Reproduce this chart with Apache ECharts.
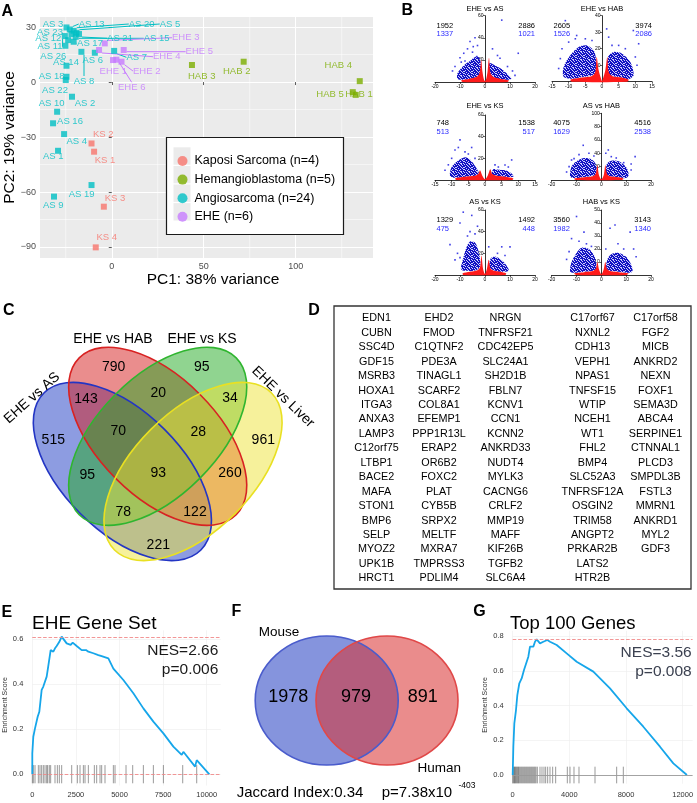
<!DOCTYPE html>
<html>
<head>
<meta charset="utf-8">
<script src="https://cdn.jsdelivr.net/npm/echarts@6.0.0/dist/echarts.min.js"></script>
<style>
html,body{margin:0;padding:0;background:#ffffff;}
#chart{width:697px;height:803px;}
</style>
</head>
<body>
<div id="chart"></div>
<script>
const FONT = '"Liberation Sans", Arial, Helvetica, sans-serif';

/* ================= Panel A : PCA ================= */
const pcaGroups = ['Kaposi Sarcoma (n=4)', 'Hemangioblastoma (n=5)', 'Angiosarcoma (n=24)', 'EHE (n=6)'];
const pcaColors = ['#F8766D', '#7CAE00', '#00BFC4', '#C77CFF'];

const ksNames = ['KS 2', 'KS 1', 'KS 3', 'KS 4'];
const ksPC1 = [-11.0, -9.6, -4.3, -8.7];
const ksPC2 = [-33.5, -38.0, -68.0, -90.2];

const habNames = ['HAB 3', 'HAB 2', 'HAB 4', 'HAB 5', 'HAB 1'];
const habPC1 = [43.6, 71.7, 134.8, 131.0, 132.6];
const habPC2 = [9.3, 11.1, 0.5, -5.5, -7.0];

const asNames = ['AS 3','AS 13','AS 20','AS 5','AS 23','AS 21','AS 15','AS 12','AS 17','AS 11','AS 26','AS 8','AS 6','AS 7','AS 14','AS 18','AS 22','AS 10','AS 2','AS 16','AS 4','AS 1','AS 19','AS 9'];
const asPC1 = [-24.6,-22.8,-20.7,-19.2,-21.9,-17.8,-19.6,-23.7,-20.7,-25.5,-25.2,-16.5,-9.2,1.3,-24.6,-24.6,-25.0,-29.7,-21.6,-31.9,-25.9,-29.2,-11.0,-31.4];
const asPC2 = [29.8,28.7,28.0,26.9,26.2,26.2,24.7,22.9,22.0,25.1,19.8,16.5,16.0,17.0,8.9,2.9,1.1,-16.2,-8.0,-22.5,-28.4,-37.5,-56.2,-62.5];

const eheNames = ['EHE 3','EHE 5','EHE 4','EHE 1','EHE 2','EHE 6'];
const ehePC1 = [-3.8, 6.5, -6.9, 0.7, 5.3, 2.5];
const ehePC2 = [21.1, 17.5, 17.5, 12.0, 11.1, 12.2];

const pcaMinorX = [-25, 25, 75, 125];
const pcaMinorY = [-75, -45, -15, 15];
const pcaTicksX = [0, 50, 100];
const pcaTicksY = [-90, -60, -30, 0, 30];

/* label placement (layout only, px) */
const ksLabelXY = [[103.3,134.3],[105,160],[115,198.3],[106.7,237.7]];
const habLabelXY = [[201.7,76],[236.7,71],[338.3,65.7],[330,94],[359,94]];
const asLabelXY = [[53,24],[91.7,24],[141.7,24],[170,24],[50,32.3],[120,38.3],[156.7,38.3],[48.3,38.3],[90,43.3],[50,46.7],[53.3,56.7],[84,81],[92.7,60],[136.7,57.3],[66,62.7],[51.7,76],[55,90],[51.7,103.3],[85,103.3],[70,121.7],[76.7,141.7],[53.3,156.7],[81.7,194],[53.3,205]];
const asGuide = [0,1,1,1,0,1,1,0,1,1,0,1,0,1,0,0,0,0,0,0,0,0,0,0];
const eheLabelXY = [[185.7,37.7],[199.3,51.7],[166.7,56.7],[113.3,71.7],[146.7,71],[131.7,87.3]];
const eheGuide = [1,1,1,0,1,1];
const ksGuide = [0,0,0,0];
const habGuide = [0,0,0,0,0];

/* ================= Panel B : volcano plots ================= */
const volTitles = ['EHE vs AS','EHE vs HAB','EHE vs KS','AS vs HAB','AS vs KS','HAB vs KS'];
const volDownAll = [1952, 2605, 748, 4075, 1329, 3560];
const volDownSig = [1337, 1526, 513, 1629, 475, 1982];
const volUpAll = [2886, 3974, 1538, 4516, 1492, 3143];
const volUpSig = [1021, 2086, 517, 2538, 448, 1340];
const volXMax = [20, 15, 15, 20, 20, 20];
const volXStep = [10, 5, 5, 10, 10, 10];
const volYMax = [60, 40, 60, 100, 60, 50];
const volYStep = [20, 10, 20, 20, 20, 10];

/* non-significant (red) cloud outlines, per plot */
const volRed = [
  [[-9,0],[-9.5,1.5],[-6,3],[-3.5,4.5],[-2.2,8],[-1.5,20],[-1,9],[-0.5,3],[0,0.8],[0.5,3],[1,9],[1.6,22],[2.2,8],[3.5,4.5],[6,3],[9.5,1.5],[9,0]],
  [[-9,0],[-9.5,1.2],[-6,2.5],[-3,3.5],[-2,6],[-1.6,15],[-1,7],[-0.3,2],[0,0.5],[0.3,2],[1,7],[1.6,15],[2,6],[3,3.5],[6,2.5],[8,1.2],[7.5,0]],
  [[-8.5,0],[-9,1.5],[-6,3],[-3,4],[-2,5.5],[-1.5,9],[-0.8,4],[0,0.8],[0.8,4],[1.6,10],[2.2,5.5],[3.5,4],[6,3],[8.5,1.5],[8,0]],
  [[-10,0],[-11,2],[-7,4],[-3.5,5.5],[-2.3,9],[-1.6,22],[-1,8],[0,1],[1,8],[1.6,22],[2.3,9],[3.5,5.5],[7,4],[9,2],[8,0]],
  [[-8.5,0],[-9,1.5],[-6,3],[-3,4.5],[-2,7],[-1.4,18],[-0.8,6],[0,1],[0.8,6],[1.5,14],[2.2,6],[3.5,4],[6,3],[8.5,1.5],[8,0]],
  [[-10,0],[-11,1.2],[-7,2.2],[-3.5,3],[-2.2,5],[-1.6,10],[-0.9,4],[0,0.6],[0.9,4],[1.6,10],[2.2,5],[3.5,3],[7,2.2],[11,1.2],[10,0]]
];
/* significant (blue) dense clouds: left, right */
const volBlueL = [
  [[-11,3],[-11,8],[-8.5,15],[-6,19],[-3.5,23],[-2,21],[-1.6,8],[-2.5,5],[-5,3.5],[-9,2]],
  [[-11.5,3],[-11.5,9],[-9.5,16],[-7,21],[-4.5,22],[-2.5,19],[-1.7,12],[-2,5],[-3,3.8],[-6,2.8],[-9,1.8]],
  [[-10.5,4],[-10,12],[-8,18],[-6,21],[-4.5,19],[-3,13],[-1.8,6],[-3,4],[-6,3],[-9,2]],
  [[-12.5,5],[-12,20],[-10,28],[-7,33],[-4,31],[-2.2,23],[-2,9],[-3.5,6],[-7,4.5],[-10,3]],
  [[-9.5,5],[-9,13],[-7.5,25],[-6,31],[-4,30],[-2.6,22],[-1.8,9],[-3,5],[-6,3.5]],
  [[-12.5,2.5],[-12,10],[-10,17],[-8,21],[-5,20],[-2.7,14],[-2,5],[-3.5,3.3],[-7,2.5],[-10,1.8]]
];
const volBlueR = [
  [[1.3,7],[1.8,17],[4,15],[6.5,12],[9,7],[10.5,3],[8,2],[5,3],[2.5,5]],
  [[1.6,5],[1.8,15],[3.5,18],[6,17],[8.5,12],[9.5,4],[8,1.5],[5,2.8],[2.5,3.8]],
  [[2,5],[2.5,10],[4,9.5],[6,9],[8,6],[8.5,3],[6,3],[3.5,4]],
  [[2,8],[2.2,24],[4,29],[7,28],[10,19],[11,8],[10,3],[7,4],[3.5,5.5]],
  [[1.8,6],[2.2,15],[4,17],[6.5,14],[8.5,9],[9.5,4],[6,3],[3.5,4.5]],
  [[2,5],[2.4,12],[4,16],[7,17],[10,14],[12,8],[12.5,2.5],[10,1.8],[7,2.5],[3.5,3.3]]
];
/* individual significant genes outside the dense clouds */
const volPts = [
  [[-13,10],[-12,14],[-10,22],[-8.5,26],[-7,30],[-6,36.6],[-4.7,32],[-3.3,23],[-3,33],[-8,19],[3,30],[5,24],[6,21.5],[9,14],[11,10],[12,6],[6.7,56],[13.3,26],[-5,27],[-9.5,18],[-4,40]],
  [[-11,37],[-7.6,28],[1.4,32],[9.4,31],[11,23],[-12.5,14],[-13,8],[-10,24],[-8,26],[-5,26],[-3,25],[3,22],[5,22],[7,20],[10,15],[10.5,10],[-12,20],[2,27]],
  [[-7.5,37],[-10,20],[-9,27.7],[8,18.5],[6,13.8],[-11,14],[-12,9],[-6,26],[-5,24],[-3,20],[4,12],[7,12],[3,14],[-8,30],[-4,30]],
  [[-7.3,52],[2.8,45],[13.6,35],[-12,30],[-13,20],[-14,12],[-9,38],[-5,40],[-3,36],[4,35],[6,33],[9,26],[12,15],[12,24],[-11,32],[1.8,40]],
  [[-8.7,58],[-5.3,55],[-10,48],[-14,28],[6.7,26],[10,26],[1.5,26],[-6,40],[-4,38],[-7,36],[-11,20],[-10,16],[-12,14],[-3,45],[5,20],[8,18]],
  [[-10,45],[-7,33],[3.5,36],[5.5,38.5],[11.6,33],[6.7,24],[-12,28],[-9,26],[-13,18],[-14,12],[13,20],[14,14],[-6,24],[9,20],[-4,22],[1.8,20]]
];

/* ================= Panel C : 4-set Venn ================= */
const vennCSets = ['EHE vs AS', 'EHE vs HAB', 'EHE vs KS', 'EHE vs Liver'];
const vennCCounts = [515, 790, 95, 961, 143, 20, 34, 70, 28, 95, 93, 260, 78, 122, 221];

/* ================= Panel D : gene table ================= */
const geneCol1 = ['EDN1','CUBN','SSC4D','GDF15','MSRB3','HOXA1','ITGA3','ANXA3','LAMP3','C12orf75','LTBP1','BACE2','MAFA','STON1','BMP6','SELP','MYOZ2','UPK1B','HRCT1'];
const geneCol2 = ['EHD2','FMOD','C1QTNF2','PDE3A','TINAGL1','SCARF2','COL8A1','EFEMP1','PPP1R13L','ERAP2','OR6B2','FOXC2','PLAT','CYB5B','SRPX2','MELTF','MXRA7','TMPRSS3','PDLIM4'];
const geneCol3 = ['NRGN','TNFRSF21','CDC42EP5','SLC24A1','SH2D1B','FBLN7','KCNV1','CCN1','KCNN2','ANKRD33','NUDT4','MYLK3','CACNG6','CRLF2','MMP19','MAFF','KIF26B','TGFB2','SLC6A4'];
const geneCol4 = ['C17orf67','NXNL2','CDH13','VEPH1','NPAS1','TNFSF15','WTIP','NCEH1','WT1','FHL2','BMP4','SLC52A3','TNFRSF12A','OSGIN2','TRIM58','ANGPT2','PRKAR2B','LATS2','HTR2B'];
const geneCol5 = ['C17orf58','FGF2','MICB','ANKRD2','NEXN','FOXF1','SEMA3D','ABCA4','SERPINE1','CTNNAL1','PLCD3','SMPDL3B','FSTL3','MMRN1','ANKRD1','MYL2','GDF3'];

/* ================= Panel E : GSEA EHE gene set ================= */
const eheRank = [0,0,57,155,212,308,403,480,537,632,728,824,881,977,1053,1206,1302,1397,1550,1684,1779,1970,2200,2315,2544,2831,3079,3213,3500,3786,3977,4360,4647,5220,5793,6367,6940,7514,8087,8565,8660,9330,9425,10150];
const eheES = [0,0.093,0.167,0.204,0.197,0.256,0.278,0.27,0.375,0.39,0.397,0.434,0.463,0.47,0.552,0.545,0.56,0.57,0.589,0.612,0.61,0.582,0.575,0.585,0.57,0.552,0.552,0.545,0.538,0.53,0.525,0.515,0.47,0.419,0.36,0.293,0.234,0.182,0.123,0.086,0.10,0.034,0.063,0];
const eheHits = [2,59,155,346,442,537,633,728,824,881,977,1053,1302,1436,1550,1684,2258,2583,2736,2927,3022,3213,3557,3691,3882,3977,4168,4646,4742,5373,5755,6367,6940,7514,8622,9425];
const eheMaxES = 0.612;
const eheNES = 'NES=2.66';
const eheP = 'p=0.006';

/* ================= Panel F : mouse/human Venn ================= */
const vennFSets = ['Mouse', 'Human'];
const vennFCounts = [1978, 979, 891];
const jaccardText = 'Jaccard Index:0.34';
const pText = 'p=7.38x10';
const pExp = '-403';

/* ================= Panel G : GSEA top 100 genes ================= */
const topRank = [0,45,115,233,327,468,633,798,939,1104,1221,1339,1457,1574,1692,1927,2163,2445,2633,3104,3810,4516,5692,6868,8045,9221,10398,11339,12300];
const topES = [0,0.163,0.297,0.374,0.46,0.528,0.556,0.604,0.614,0.681,0.739,0.748,0.739,0.767,0.781,0.758,0.767,0.777,0.767,0.748,0.70,0.652,0.595,0.499,0.384,0.278,0.163,0.067,0];
const topHits = [0,68,115,162,210,280,327,397,445,515,586,656,727,798,868,939,1009,1080,1151,1221,1292,1362,1433,1504,1574,1645,1739,1927,2068,2209,2327,2468,2633,2821,3033,3856,4045,4327,4680,5810,7339,7809];
const topMaxES = 0.78;
const topNES = 'NES=3.56';
const topP = 'p=0.008';

/* ================================================================== */
const chart = echarts.init(document.getElementById('chart'));
const grids = [], xAxes = [], yAxes = [], series = [], gfx = [];

function txt(t, x, y, size, o) {
  o = o || {};
  return {
    type: 'text', x: x, y: y, rotation: o.rot || 0, z: o.z || 20, silent: true,
    style: {
      text: t, fontSize: size, fontFamily: FONT, fontWeight: o.bold ? 'bold' : 'normal',
      fill: o.color || '#000', align: o.align || 'center', verticalAlign: o.va || 'middle'
    }
  };
}
const minus = v => String(v).replace('-', '\u2212');

/* speckle texture (fixed irregular dot tile) for dense significant-gene clouds */
const speckleRows = ['11011101','01110110','10101111','11110010','01011011','11101101','10110111','01111010'];
function speckle(color) {
  const cv = document.createElement('canvas');
  cv.width = 8; cv.height = 8;
  const ctx = cv.getContext('2d');
  ctx.fillStyle = 'rgba(60,60,230,0.25)';
  ctx.fillRect(0, 0, 8, 8);
  ctx.fillStyle = color;
  speckleRows.forEach((row, y) => row.split('').forEach((c, x) => { if (c === '1') ctx.fillRect(x, y, 1, 1); }));
  return {image: cv, repeat: 'repeat'};
}
const blueTex = speckle('#1212c4');

/* ---------- A ---------- */
grids.push({left: 40, top: 17, width: 333, height: 241, show: true, backgroundColor: '#ebebeb', borderWidth: 0});
xAxes.push({
  type: 'value', gridIndex: 0, min: -39, max: 142, splitNumber: 4,
  axisLine: {show: false},
  axisTick: {show: true, length: 3, customValues: pcaTicksX, lineStyle: {color: '#333', width: 0.8}},
  axisLabel: {show: true, fontSize: 9, color: '#4d4d4d', margin: 4, customValues: pcaTicksX,
    formatter: minus, fontFamily: FONT},
  splitLine: {show: true, lineStyle: {color: '#ffffff', width: 1.1}}
});
yAxes.push({
  type: 'value', gridIndex: 0, min: -96, max: 35.5,
  axisLine: {show: false},
  axisTick: {show: true, length: 3, customValues: pcaTicksY, lineStyle: {color: '#333', width: 0.8}},
  axisLabel: {show: true, fontSize: 9, color: '#4d4d4d', margin: 4, customValues: pcaTicksY,
    formatter: minus, fontFamily: FONT},
  splitLine: {show: true, lineStyle: {color: '#ffffff', width: 1.1}}
});
/* minor grid lines */
series.push({
  type: 'custom', xAxisIndex: 0, yAxisIndex: 0, z: 1, silent: true,
  data: pcaMinorX.map(v => [v, 0, 0]).concat(pcaMinorY.map(v => [0, v, 1])),
  renderItem: function (params, api) {
    const isY = api.value(2) === 1;
    let a, b;
    if (isY) { a = api.coord([-39, api.value(1)]); b = api.coord([142, api.value(1)]); }
    else { a = api.coord([api.value(0), -96]); b = api.coord([api.value(0), 35.5]); }
    return {type: 'line', shape: {x1: a[0], y1: a[1], x2: b[0], y2: b[1]}, style: {stroke: '#ffffff', lineWidth: 0.55}};
  }
});
function pcaSeries(gi, names, pc1, pc2, lab, guide) {
  const col = pcaColors[gi];
  return {
    type: 'scatter', name: pcaGroups[gi], xAxisIndex: 0, yAxisIndex: 0, z: 3,
    symbol: 'rect', symbolSize: 6, itemStyle: {color: col},
    data: names.map((n, i) => ({name: n, value: [pc1[i], pc2[i]], labelLine: {show: !!guide[i]}})),
    label: {show: true, formatter: '{b}', color: col, fontSize: 9.5, fontFamily: FONT},
    labelLine: {show: false, lineStyle: {color: col, width: 1}},
    labelLayout: function (p) {
      const q = lab[p.dataIndex];
      return {x: q[0], y: q[1], align: 'center', verticalAlign: 'middle'};
    }
  };
}
series.push(pcaSeries(0, ksNames, ksPC1, ksPC2, ksLabelXY, ksGuide));
series.push(pcaSeries(1, habNames, habPC1, habPC2, habLabelXY, habGuide));
series.push(pcaSeries(2, asNames, asPC1, asPC2, asLabelXY, asGuide));
series.push(pcaSeries(3, eheNames, ehePC1, ehePC2, eheLabelXY, eheGuide));

gfx.push(txt('A', 1.5, 11.5, 16, {bold: true, align: 'left'}));
gfx.push(txt('PC1: 38% variance', 213, 280, 15.5));
gfx.push(txt('PC2: 19% variance', 10, 137.5, 15.5, {rot: Math.PI / 2}));
/* legend box */
gfx.push({type: 'rect', z: 5, silent: true, shape: {x: 166.5, y: 137.5, width: 177, height: 97},
  style: {fill: '#ffffff', stroke: '#1a1a1a', lineWidth: 1.2}});
for (let k = 0; k < 4; k++) {
  gfx.push({type: 'rect', z: 6, silent: true, shape: {x: 173.5, y: 147.3 + k * 18.6, width: 17, height: 17.4},
    style: {fill: '#ebebeb'}});
}

/* ---------- B ---------- */
const volGrid = [[435,15.7,100,66.3],[552,15.7,100,66],[435,115,100,65],[551.7,113.3,99.3,66.7],[435,210,100,65],[551.7,210,99.3,65]];
const volTitleY = [9, 9, 106, 106, 201.7, 201.7];
const volNumY = [25.7, 25.7, 123, 123, 220, 220];
for (let i = 0; i < 6; i++) {
  const g = volGrid[i], gi = i + 1;
  grids.push({left: g[0], top: g[1], width: g[2], height: g[3], show: false});
  xAxes.push({
    type: 'value', gridIndex: gi, min: -volXMax[i], max: volXMax[i], interval: volXStep[i],
    axisLine: {show: true, onZero: false, lineStyle: {color: '#000', width: 0.8}},
    axisTick: {show: true, length: 2, lineStyle: {color: '#000', width: 0.6}},
    axisLabel: {fontSize: 5, color: '#000', margin: 2.5, fontFamily: FONT, formatter: v => String(v)},
    splitLine: {show: false}
  });
  yAxes.push({
    type: 'value', gridIndex: gi, min: 0, max: volYMax[i], interval: volYStep[i],
    position: 'left', offset: -g[2] / 2,
    axisLine: {show: true, onZero: false, lineStyle: {color: '#000', width: 0.8}},
    axisTick: {show: true, length: 2, lineStyle: {color: '#000', width: 0.6}},
    axisLabel: {fontSize: 5, color: '#000', margin: 1.5, showMinLabel: false, fontFamily: FONT},
    splitLine: {show: false}
  });
  const polys = [volBlueL[i], volBlueR[i], volRed[i]];
  const polyCol = [blueTex, blueTex, '#ff1a1a'];
  series.push({
    type: 'custom', xAxisIndex: gi, yAxisIndex: gi, z: 2, silent: true,
    data: polys.map(p => [p[0][0], p[0][1]]),
    renderItem: function (params, api) {
      const poly = polys[params.dataIndex];
      return {type: 'polygon', shape: {points: poly.map(p => api.coord(p)), smooth: 0.3},
        style: {fill: polyCol[params.dataIndex]}};
    }
  });
  series.push({
    type: 'scatter', xAxisIndex: gi, yAxisIndex: gi, z: 3, silent: true,
    symbol: 'rect', symbolSize: 1.6, itemStyle: {color: '#1010e0'},
    data: volPts[i]
  });
  const cx = g[0] + g[2] / 2;
  gfx.push(txt(volTitles[i], cx, volTitleY[i], 7.5));
  gfx.push(txt(String(volDownAll[i]), g[0] + 1.5, volNumY[i], 7.5, {align: 'left'}));
  gfx.push(txt(String(volDownSig[i]), g[0] + 1.5, volNumY[i] + 8.6, 7.5, {align: 'left', color: '#2b2bff'}));
  gfx.push(txt(String(volUpAll[i]), g[0] + g[2], volNumY[i], 7.5, {align: 'right'}));
  gfx.push(txt(String(volUpSig[i]), g[0] + g[2], volNumY[i] + 8.6, 7.5, {align: 'right', color: '#2b2bff'}));
}
gfx.push(txt('B', 401.5, 10.5, 16, {bold: true, align: 'left'}));

/* ---------- C : 4-set Venn ---------- */
const vennCGeom = [  // cx, cy, rotation
  [122.4, 471.5, -Math.PI / 4],
  [157.7, 436.3, -Math.PI / 4],
  [157.7, 436.3, Math.PI / 4],
  [193.0, 471.5, Math.PI / 4]
];
const vennCFill = ['rgba(28,58,196,0.5)', 'rgba(214,28,28,0.5)', 'rgba(34,170,34,0.5)', 'rgba(238,228,56,0.5)'];
const vennCStroke = ['#2335c4', '#d82222', '#2fb52f', '#e9e022'];
const vennA = 111, vennB = 59.5;
for (let k = 0; k < 4; k++) {
  const e = vennCGeom[k];
  gfx.push({type: 'ellipse', x: e[0], y: e[1], rotation: e[2], z: 1, silent: true,
    shape: {cx: 0, cy: 0, rx: vennA, ry: vennB}, style: {fill: vennCFill[k]}});
}
for (let k = 0; k < 4; k++) {
  const e = vennCGeom[k];
  gfx.push({type: 'ellipse', x: e[0], y: e[1], rotation: e[2], z: 2, silent: true,
    shape: {cx: 0, cy: 0, rx: vennA, ry: vennB}, style: {fill: 'none', stroke: vennCStroke[k], lineWidth: 1.6}});
}
const vennCCountXY = [[53.3,440],[113.7,367.3],[201.7,367.3],[263.3,440],[86,399.3],[158.3,393.3],[230,398.3],[118.3,430.7],[198.3,431.7],[87.3,475],[158.3,473.3],[230,473.3],[123.3,511.7],[195,511.7],[158.3,545]];
vennCCounts.forEach((c, k) => gfx.push(txt(String(c), vennCCountXY[k][0], vennCCountXY[k][1], 14)));
gfx.push(txt(vennCSets[0], 32, 398, 14, {rot: 0.73}));
gfx.push(txt(vennCSets[1], 113, 339, 14));
gfx.push(txt(vennCSets[2], 202, 339, 14));
gfx.push(txt(vennCSets[3], 283, 397, 14, {rot: -0.77}));
gfx.push(txt('C', 3, 310.5, 16, {bold: true, align: 'left'}));

/* ---------- D : gene table ---------- */
gfx.push(txt('D', 308.3, 310.5, 16, {bold: true, align: 'left'}));
gfx.push({type: 'rect', z: 2, silent: true, shape: {x: 334, y: 306, width: 357, height: 283},
  style: {fill: 'none', stroke: '#333', lineWidth: 1.3}});
const geneCols = [geneCol1, geneCol2, geneCol3, geneCol4, geneCol5];
const geneColX = [376.5, 439, 505.5, 592.5, 655.5];
geneCols.forEach((col, c) => col.forEach((gname, r) => gfx.push(txt(gname, geneColX[c], 318.3 + r * 14.45, 10.8))));

/* ---------- E / G : GSEA ---------- */
function gseaAxes(gi, gl, gt, gw, gh, xmax, xstep, ymin, ymax, ysplit, xmargin) {
  grids.push({left: gl, top: gt, width: gw, height: gh, show: false});
  xAxes.push({
    type: 'value', gridIndex: gi, min: 0, max: xmax, interval: xstep,
    axisLine: {show: false}, axisTick: {show: false},
    axisLabel: {fontSize: 7.5, color: '#333', margin: xmargin, showMaxLabel: false, fontFamily: FONT,
      formatter: v => String(v)},
    splitLine: {show: true, showMaxLine: false, lineStyle: {color: '#ececec', width: 0.6}}
  });
  yAxes.push({
    type: 'value', gridIndex: gi, min: ymin, max: ymax, splitNumber: ysplit,
    axisLine: {show: false}, axisTick: {show: false},
    axisLabel: {fontSize: 7.5, color: '#333', margin: 9, showMinLabel: false, showMaxLabel: false,
      formatter: v => v.toFixed(1), fontFamily: FONT},
    splitLine: {show: true, showMinLine: false, showMaxLine: false, lineStyle: {color: '#ececec', width: 0.6}}
  });
}
function barcode(gi, hits, lo, hi) {
  return {
    type: 'custom', xAxisIndex: gi, yAxisIndex: gi, z: 2, silent: true,
    data: hits.map(r => [r, 0]),
    renderItem: function (params, api) {
      const a = api.coord([api.value(0), lo]), b = api.coord([api.value(0), hi]);
      return {type: 'line', shape: {x1: a[0], y1: a[1], x2: b[0], y2: b[1]},
        style: {stroke: 'rgba(0,0,0,0.5)', lineWidth: 0.8}};
    }
  };
}
/* E */
gseaAxes(7, 32.3, 630.3, 188.4, 155.25, 10800, 2500, -0.05, 0.64, 3, 5);
series.push(barcode(7, eheHits, -0.04, 0.041));
series.push({
  type: 'line', xAxisIndex: 7, yAxisIndex: 7, z: 3, silent: true, showSymbol: false, symbol: 'none',
  data: eheRank.map((r, i) => [r, eheES[i]]),
  lineStyle: {color: '#16a6ea', width: 1.8},
  markLine: {silent: true, symbol: 'none', label: {show: false},
    lineStyle: {type: 'dashed', color: '#f08a8a', width: 0.9},
    data: [{yAxis: eheMaxES}, {yAxis: 0}]}
});
gfx.push(txt('E', 1.5, 612.2, 16, {bold: true, align: 'left'}));
gfx.push(txt('EHE Gene Set', 32, 623.5, 19, {align: 'left'}));
gfx.push(txt(eheNES, 218.3, 650.7, 15.5, {align: 'right', color: '#1a1a1a'}));
gfx.push(txt(eheP, 218.3, 670, 15.5, {align: 'right', color: '#1a1a1a'}));
gfx.push(txt('Enrichment Score', 5.3, 705, 7, {rot: Math.PI / 2, color: '#333'}));

/* G */
gseaAxes(8, 512.7, 630.8, 179.9, 152.9, 12700, 4000, -0.05, 0.83, 4, 7);
series.push(barcode(8, topHits, -0.048, 0.048));
series.push({
  type: 'line', xAxisIndex: 8, yAxisIndex: 8, z: 3, silent: true, showSymbol: false, symbol: 'none',
  data: topRank.map((r, i) => [r, topES[i]]),
  lineStyle: {color: '#16a6ea', width: 1.8},
  markLine: {silent: true, symbol: 'none', label: {show: false},
    data: [{yAxis: topMaxES, lineStyle: {type: 'dashed', color: '#f08a8a', width: 0.9}},
           {yAxis: 0, lineStyle: {type: 'solid', color: '#9a9a9a', width: 0.9}}]}
});
gfx.push(txt('G', 473.3, 611.3, 16, {bold: true, align: 'left'}));
gfx.push(txt('Top 100 Genes', 510, 624.3, 18.5, {align: 'left'}));
gfx.push(txt(topNES, 691.7, 652.7, 15.5, {align: 'right', color: '#3b4150'}));
gfx.push(txt(topP, 691.7, 671.7, 15.5, {align: 'right', color: '#3b4150'}));
gfx.push(txt('Enrichment Score', 485, 705, 7, {rot: Math.PI / 2, color: '#333'}));

/* ---------- F : 2-set Venn ---------- */
gfx.push({type: 'ellipse', z: 1, silent: true, shape: {cx: 326.7, cy: 700.5, rx: 71.5, ry: 64.5},
  style: {fill: 'rgba(38,64,194,0.56)'}});
gfx.push({type: 'ellipse', z: 1, silent: true, shape: {cx: 387, cy: 700.5, rx: 71, ry: 64.5},
  style: {fill: 'rgba(218,50,50,0.56)'}});
gfx.push({type: 'ellipse', z: 2, silent: true, shape: {cx: 326.7, cy: 700.5, rx: 71.5, ry: 64.5},
  style: {fill: 'none', stroke: '#4a5ccc', lineWidth: 1.6}});
gfx.push({type: 'ellipse', z: 2, silent: true, shape: {cx: 387, cy: 700.5, rx: 71, ry: 64.5},
  style: {fill: 'none', stroke: '#e04848', lineWidth: 1.6}});
gfx.push(txt(String(vennFCounts[0]), 288.3, 697.3, 18));
gfx.push(txt(String(vennFCounts[1]), 356, 697.3, 18));
gfx.push(txt(String(vennFCounts[2]), 422.7, 697.3, 18));
gfx.push(txt(vennFSets[0], 279, 632.7, 13.5));
gfx.push(txt(vennFSets[1], 439.2, 768.3, 13.5));
gfx.push(txt(jaccardText, 300, 793, 15));
gfx.push(txt(pText, 381.7, 793, 15, {align: 'left'}));
gfx.push(txt(pExp, 458.5, 785.5, 8.5, {align: 'left'}));
gfx.push(txt('F', 231.5, 611.3, 16, {bold: true, align: 'left'}));

const option = {
  animation: false,
  backgroundColor: '#ffffff',
  textStyle: {fontFamily: FONT},
  grid: grids,
  xAxis: xAxes,
  yAxis: yAxes,
  legend: {
    show: true, z: 10, orient: 'vertical', left: 172.5, top: 146.7, itemGap: 0,
    itemWidth: 10, itemHeight: 10, icon: 'circle', selectedMode: false,
    data: pcaGroups,
    textStyle: {fontSize: 12.5, color: '#000', fontFamily: FONT, lineHeight: 18.6, padding: [0, 0, 0, 2]}
  },
  series: series,
  graphic: {elements: gfx}
};
chart.setOption(option);
</script>
</body>
</html>
